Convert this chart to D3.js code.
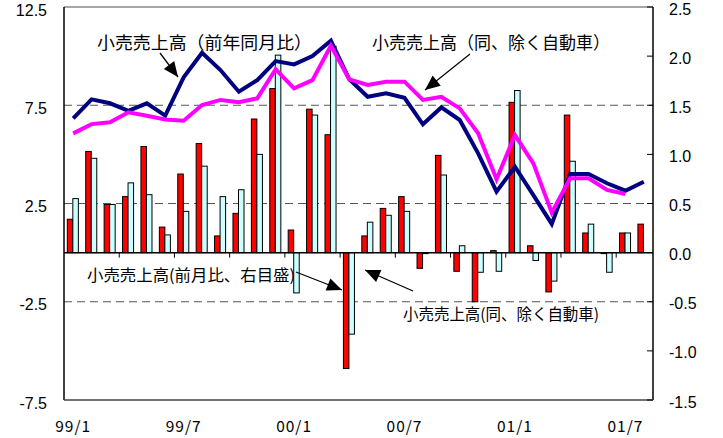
<!DOCTYPE html>
<html>
<head>
<meta charset="utf-8">
<script src="https://cdn.jsdelivr.net/npm/d3@7"></script>
<style>
  html, body { margin: 0; padding: 0; background: #fff; }
  svg { display: block; }
</style>
</head>
<body>
<svg id="chart" width="723" height="438"></svg>
<script>
// Months 1999/1 .. 2001/8
const months = [
  "99/1","99/2","99/3","99/4","99/5","99/6","99/7","99/8","99/9","99/10","99/11","99/12",
  "00/1","00/2","00/3","00/4","00/5","00/6","00/7","00/8","00/9","00/10","00/11","00/12",
  "01/1","01/2","01/3","01/4","01/5","01/6","01/7","01/8"
];
const monthTicks = ["99/1","99/7","00/1","00/7","01/1","01/7"];

// Retail sales, month-on-month % (right axis)
const momAll = [0.34,1.03,0.49,0.57,1.08,0.26,0.80,1.11,0.17,0.40,1.36,1.67,
                0.23,1.46,1.20,-1.18,0.17,0.45,0.57,-0.16,0.99,-0.19,-0.50,0.02,
                1.53,0.07,-0.40,1.40,0.20,-0.01,0.20,0.29];
// Retail sales excluding autos, month-on-month % (right axis)
const momExAuto = [0.55,0.96,0.49,0.71,0.59,0.18,0.42,0.88,0.57,0.64,1.00,2.01,
                   -0.41,1.40,2.10,-0.83,0.31,0.38,0.42,-0.01,0.79,0.07,-0.20,-0.19,
                   1.65,-0.08,-0.29,0.93,0.29,-0.20,0.20,null];
// Retail sales, year-on-year % (left axis)
const yoyAll = [6.83,7.80,7.60,7.22,7.60,6.97,8.92,10.17,9.29,8.19,8.78,9.75,
                9.58,10.00,10.78,8.82,7.93,8.11,7.88,6.53,7.39,6.75,5.05,3.10,
                4.37,2.93,1.46,4.00,4.00,3.53,3.15,3.61];
// Retail sales excluding autos, year-on-year % (left axis)
const yoyExAuto = [6.07,6.54,6.63,7.14,6.97,6.78,6.71,7.51,7.77,7.65,7.85,9.33,
                   8.36,8.78,10.53,8.82,8.53,8.70,8.70,7.77,7.93,7.34,6.07,3.73,
                   5.98,4.54,2.03,3.78,3.78,3.19,2.98,null];

const leftTicks = [12.5, 7.5, 2.5, -2.5, -7.5];
const rightTicks = [2.5, 2.0, 1.5, 1.0, 0.5, 0.0, -0.5, -1.0, -1.5];
const gridValues = [7.5, 2.5, -2.5];

const svg = d3.select("#chart");
const L = 64, R = 653, T = 7, B = 400;
const jp = "'Noto Sans CJK JP', 'Noto Sans', sans-serif";
const num = "'Liberation Sans', Arial, sans-serif";

const x = d3.scaleBand().domain(months).range([L, R]).padding(0);
const yL = d3.scaleLinear().domain([-7.5, 12.5]).range([B, T]);
const yR = d3.scaleLinear().domain([-1.5, 2.5]).range([B, T]);
const bw = x.bandwidth();

// arrow head marker
svg.append("defs").append("marker")
  .attr("id", "head")
  .attr("markerUnits", "userSpaceOnUse")
  .attr("markerWidth", 18).attr("markerHeight", 16)
  .attr("viewBox", "-1 -8 18 16")
  .attr("refX", 15).attr("refY", 0)
  .attr("orient", "auto")
  .append("path").attr("d", "M0,-6.5L15,0L0,6.5Z").attr("fill", "#000");

// dashed gridlines
svg.append("g").selectAll("line").data(gridValues).join("line")
  .attr("x1", L).attr("x2", R)
  .attr("y1", d => yL(d)).attr("y2", d => yL(d))
  .attr("stroke", "#555").attr("stroke-width", 1)
  .attr("stroke-dasharray", "8,5");

// bars
const barG = svg.append("g");
barG.selectAll("rect.all").data(momAll.map((v, i) => ({m: months[i], v})))
  .join("rect")
  .attr("x", d => x(d.m) + bw * 0.18)
  .attr("width", bw * 0.30)
  .attr("y", d => Math.min(yR(d.v), yR(0)))
  .attr("height", d => Math.max(Math.abs(yR(d.v) - yR(0)), 0.5))
  .attr("fill", "#ff0000").attr("stroke", "#000").attr("stroke-width", 1);
barG.selectAll("rect.ex").data(momExAuto.map((v, i) => ({m: months[i], v})).filter(d => d.v !== null))
  .join("rect")
  .attr("x", d => x(d.m) + bw * 0.48)
  .attr("width", bw * 0.30)
  .attr("y", d => Math.min(yR(d.v), yR(0)))
  .attr("height", d => Math.max(Math.abs(yR(d.v) - yR(0)), 0.5))
  .attr("fill", "#ccffff").attr("stroke", "#000").attr("stroke-width", 1);

// zero line with quarterly ticks
svg.append("line").attr("x1", L).attr("x2", R)
  .attr("y1", yR(0)).attr("y2", yR(0))
  .attr("stroke", "#000").attr("stroke-width", 1.5);
svg.append("g").selectAll("line").data(months.filter((m, i) => i > 0 && i % 3 === 0))
  .join("line")
  .attr("x1", d => x(d)).attr("x2", d => x(d))
  .attr("y1", yR(0)).attr("y2", yR(0) + 5)
  .attr("stroke", "#000").attr("stroke-width", 1);

// lines
const line = d3.line()
  .defined(d => d.v !== null)
  .x(d => x(d.m) + bw / 2)
  .y(d => yL(d.v));
svg.append("path")
  .datum(yoyAll.map((v, i) => ({m: months[i], v})))
  .attr("d", line).attr("fill", "none")
  .attr("stroke", "#000080").attr("stroke-width", 4).attr("stroke-linejoin", "miter");
svg.append("path")
  .datum(yoyExAuto.map((v, i) => ({m: months[i], v})))
  .attr("d", line).attr("fill", "none")
  .attr("stroke", "#ff00ff").attr("stroke-width", 4).attr("stroke-linejoin", "miter");

// frame
svg.append("line").attr("x1", L).attr("x2", R).attr("y1", T).attr("y2", T)
  .attr("stroke", "#888").attr("stroke-width", 1.5);
svg.append("line").attr("x1", L).attr("x2", L).attr("y1", T).attr("y2", B)
  .attr("stroke", "#000").attr("stroke-width", 1.5);
svg.append("line").attr("x1", R).attr("x2", R).attr("y1", T).attr("y2", B)
  .attr("stroke", "#000").attr("stroke-width", 1.5);
svg.append("line").attr("x1", L).attr("x2", R).attr("y1", B).attr("y2", B)
  .attr("stroke", "#444").attr("stroke-width", 1.5);

// right axis ticks (inward)
svg.append("g").selectAll("line").data(rightTicks).join("line")
  .attr("x1", R - 6).attr("x2", R)
  .attr("y1", d => yR(d)).attr("y2", d => yR(d))
  .attr("stroke", "#000").attr("stroke-width", 1);

// axis labels
const fmt = d => (d < 0 ? "-" : "") + Math.abs(d).toFixed(1);
svg.append("g").selectAll("text").data(leftTicks).join("text")
  .attr("x", 47).attr("y", d => yL(d) + 3)
  .attr("text-anchor", "end").attr("dominant-baseline", "central")
  .attr("font-family", num).attr("font-size", 16).attr("fill", "#000")
  .text(fmt);
svg.append("g").selectAll("text").data(rightTicks).join("text")
  .attr("x", 669).attr("y", d => yR(d) + 2)
  .attr("text-anchor", "start").attr("dominant-baseline", "central")
  .attr("font-family", num).attr("font-size", 16).attr("fill", "#000")
  .text(fmt);
svg.append("g").selectAll("text").data(monthTicks).join("text")
  .attr("x", d => x(d) + bw / 2).attr("y", 425)
  .attr("text-anchor", "middle").attr("dominant-baseline", "central")
  .attr("font-family", jp).attr("font-size", 15.5).attr("letter-spacing", 1)
  .attr("fill", "#000")
  .text(d => d);

// annotations
const notes = [
  {t: "小売売上高（前年同月比）", x: 97, y: 41, w: 215, s: 17.5, a: [[160, 53], [178, 77]]},
  {t: "小売売上高（同、除く自動車）", x: 372, y: 41, w: 238, s: 17.5, a: [[470, 54], [425, 90]]},
  {t: "小売売上高(前月比、右目盛)", x: 87, y: 274, w: 208, s: 16, a: [[296, 272], [342, 290]]},
  {t: "小売売上高(同、除く自動車)", x: 403, y: 313, w: 196, s: 16, a: [[413, 291], [365, 270]]}
];
const noteG = svg.append("g");
noteG.selectAll("text").data(notes).join("text")
  .attr("x", d => d.x).attr("y", d => d.y)
  .attr("dominant-baseline", "central")
  .attr("font-family", jp).attr("font-size", d => d.s)
  .attr("textLength", d => d.w).attr("lengthAdjust", "spacingAndGlyphs")
  .attr("fill", "#000")
  .text(d => d.t);
noteG.selectAll("line").data(notes).join("line")
  .attr("x1", d => d.a[0][0]).attr("y1", d => d.a[0][1])
  .attr("x2", d => d.a[1][0]).attr("y2", d => d.a[1][1])
  .attr("stroke", "#000").attr("stroke-width", 1.3)
  .attr("marker-end", "url(#head)");
</script>
</body>
</html>
